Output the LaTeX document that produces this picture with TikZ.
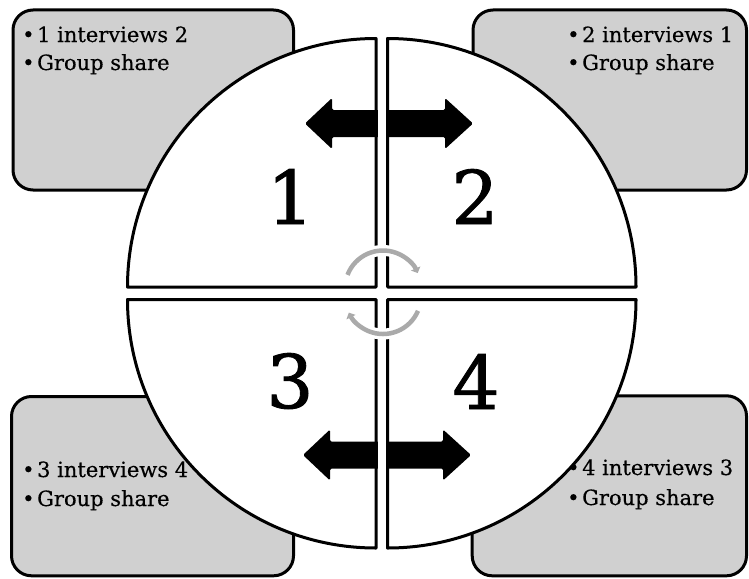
\documentclass[tikz,border=0pt]{standalone}
\usepackage{fontspec}
\setmainfont{DejaVu Serif}
\newfontfamily\numfont{DejaVu Serif}[FakeBold=1.2]
\newfontfamily\txtfont{DejaVu Serif}[FakeBold=0.4]
\usetikzlibrary{arrows.meta}
\definecolor{boxgray}{RGB}{208,208,208}
\definecolor{arcgray}{RGB}{170,170,170}
\newcommand{\bul}{•\hspace{2.6pt}}
\tikzset{
  infobox/.style={draw=black, line width=3pt, fill=boxgray, rounded corners=20pt},
  piece/.style={draw=black, line width=3pt, fill=white, line join=round},
  boxtext/.style={anchor=base west, inner sep=0pt, font=\txtfont\fontsize{21}{25}\selectfont},
  bignum/.style={anchor=base, inner sep=0pt, font=\numfont\fontsize{74}{80}\selectfont},
  arrowbody/.style={fill=black, rounded corners=1.5pt},
  cyclearc/.style={draw=arcgray, line width=4.5pt, -{Triangle[width=10pt,length=5pt]}},
  halo/.style={draw=white, line width=11pt}
}
\begin{document}
\begin{tikzpicture}[x=1pt,y=-1pt]
\useasboundingbox (0,0) rectangle (749,578);
% boxes
\draw[infobox] (13,10) rectangle (293.5,190);
\draw[infobox] (473,10) rectangle (746.5,190);
\draw[infobox] (11.5,396.5) rectangle (293.5,575.8);
\draw[infobox] (472.2,395.8) rectangle (746.5,575.8);
% quadrant corners
\coordinate (c1) at (376,287);
\coordinate (c2) at (387.5,287);
\coordinate (c3) at (376,299.5);
\coordinate (c4) at (387.5,299.5);
\draw[piece] (c1) -- ++(-248.5,0) arc[start angle=180,end angle=270,radius=248.5] -- cycle;
\draw[piece] (c2) -- ++(0,-248.5) arc[start angle=270,end angle=360,radius=248.5] -- cycle;
\draw[piece] (c4) -- ++(248.5,0) arc[start angle=0,end angle=90,radius=248.5] -- cycle;
\draw[piece] (c3) -- ++(0,248.5) arc[start angle=90,end angle=180,radius=248.5] -- cycle;
% double arrows
\coordinate (ta) at (389,123.5);
\coordinate (ba) at (387,455);
\foreach \c in {ta,ba}{
  \fill[arrowbody] ([shift={(-84,0)}]\c) -- ([shift={(-57,-25.5)}]\c) -- ([shift={(-57,-13.5)}]\c)
    -- ([shift={(56,-13.5)}]\c) -- ([shift={(56,-25.5)}]\c) -- ([shift={(84,0)}]\c)
    -- ([shift={(56,25.5)}]\c) -- ([shift={(56,13.5)}]\c) -- ([shift={(-57,13.5)}]\c)
    -- ([shift={(-57,25.5)}]\c) -- cycle;
}
\fill[white] (377.5,92) rectangle (386,155);
\fill[white] (377.5,423) rectangle (386,487);
% cycle arcs
\coordinate (uc) at (383,288.5);
\coordinate (lc) at (383,296);
\draw[halo] ([shift={(-159:38)}]uc) arc[start angle=-159,end angle=-24,radius=38];
\draw[halo] ([shift={(23:38)}]lc) arc[start angle=23,end angle=154,radius=38];
\draw[cyclearc] ([shift={(-159:38)}]uc) arc[start angle=-159,end angle=-24,radius=38];
\draw[cyclearc] ([shift={(23:38)}]lc) arc[start angle=23,end angle=154,radius=38];
% big numbers
\node[bignum] (n1) at (290.5,224) {1};
\node[bignum] (n2) at (475,224) {2};
\node[bignum] (n3) at (290,408) {3};
\node[bignum] (n4) at (476,409) {4};
% box texts
\node[boxtext] (t1a) at (22,42) {\bul 1 interviews 2};
\node[boxtext] (t1b) at (22,70) {\bul Group share};
\node[boxtext] (t2a) at (567,42) {\bul 2 interviews 1};
\node[boxtext] (t2b) at (567,70) {\bul Group share};
\node[boxtext] (t3a) at (22,477) {\bul 3 interviews 4};
\node[boxtext] (t3b) at (22,506) {\bul Group share};
\node[boxtext] (t4a) at (567,475) {\bul 4 interviews 3};
\node[boxtext] (t4b) at (567,505) {\bul Group share};
\end{tikzpicture}
\end{document}
